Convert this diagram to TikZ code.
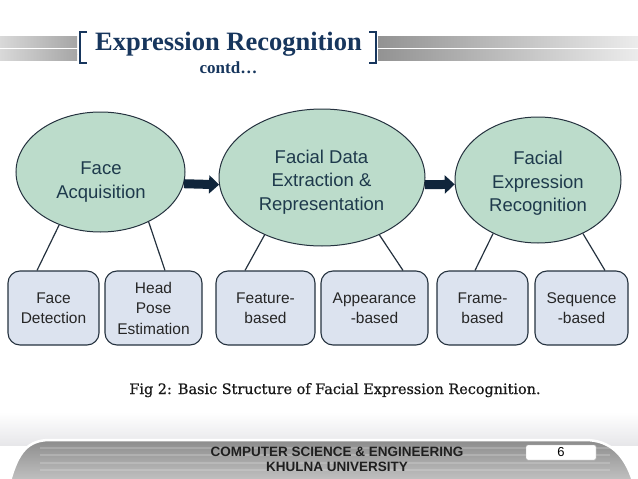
\documentclass[tikz,border=0pt]{standalone}
\usepackage{fontspec}
\setmainfont{Liberation Sans}
\newfontfamily\seriffont{Liberation Serif}
\newfontfamily\capfont{DejaVu Serif}[FakeBold=0.7]
\usepackage{tikz}
\usetikzlibrary{arrows.meta,shapes.geometric}

\definecolor{navy}{HTML}{17365D}
\definecolor{stagefill}{HTML}{BCDCCB}
\definecolor{stagetext}{HTML}{1E3A4C}
\definecolor{methodfill}{HTML}{DCE3EF}
\definecolor{outline}{HTML}{25323F}
\definecolor{arrowblue}{HTML}{10253B}
\definecolor{bandtop}{gray}{0.55}
\definecolor{bandbot}{gray}{0.76}

\tikzset{
	stage/.style={ellipse,draw=outline,line width=1pt,fill=stagefill,inner sep=0pt},
	stagelabel/.style={text=stagetext,align=center,font=\fontsize{18.5}{23.5}\selectfont},
	method/.style={rectangle,rounded corners=12pt,draw=outline,line width=1.1pt,fill=methodfill,
		minimum height=74pt,inner sep=0pt,align=center,text=black!85,font=\fontsize{15.5}{20.5}\selectfont},
	flow/.style={draw=arrowblue,line width=9pt,-{Triangle[length=10pt,width=18pt]}},
	branch/.style={draw=outline,line width=1.2pt}
}

\begin{document}
\begin{tikzpicture}[x=1pt,y=-1pt]
	\useasboundingbox (0,0) rectangle (638,479);

	% title bar
	\foreach \y in {36,42.3,49,54.7} {
		\shade[left color=gray!30,right color=gray!70] (0,\y) rectangle (77,\y+5.3);
		\shade[left color=gray!85,right color=gray!15] (378,\y) rectangle (638,\y+5.3);
	}
	\draw[navy,line width=1.2pt] (87,32) -- (80,32) -- (80,63) -- (87,63);
	\draw[navy,line width=1.2pt] (369,32) -- (376,32) -- (376,63) -- (369,63);
	\node[navy,anchor=base] (title) at (228.5,50) {\seriffont\bfseries\fontsize{26.5}{30}\selectfont Expression Recognition};
	\node[navy,anchor=base] (contd) at (228.5,73) {\seriffont\bfseries\fontsize{17}{20}\selectfont contd…};

	% stages
	\node[stage,minimum width=169pt,minimum height=120pt] (acq) at (100.5,172) {};
	\node[stage,minimum width=206pt,minimum height=137pt] (ext) at (322,177.5) {};
	\node[stage,minimum width=166pt,minimum height=126pt] (rec) at (538,180) {};
	\node[stagelabel] (acqtext) at (101,182) {Face\\Acquisition};
	\node[stagelabel] (exttext) at (321.5,182) {Facial Data\\Extraction \&\\Representation};
	\node[stagelabel] (rectext) at (538,183.5) {Facial\\Expression\\Recognition};

	\path[flow] (acq.352) -- (ext.184);
	\path[flow] (ext.356) -- (rec.183);

	% methods
	\begin{scope}[every node/.style={method}]
		\node[minimum width=91pt] (det) at (53.5,308) {Face\\Detection};
		\node[minimum width=97pt] (pose) at (153.5,308) {Head\\Pose\\Estimation};
		\node[minimum width=99pt] (feat) at (265.5,308) {Feature-\\based};
		\node[minimum width=107pt] (app) at (374.5,308) {Appearance\\-based};
		\node[minimum width=91pt] (frame) at (482.5,308) {Frame-\\based};
		\node[minimum width=93pt] (seq) at (581.5,308) {Sequence\\-based};
	\end{scope}

	\path[branch] (acq.232) -- ([xshift=-16.5pt]det.north);
	\path[branch] (acq.314) -- ([xshift=11.5pt]pose.north);
	\path[branch] (ext.225) -- ([xshift=-20.5pt]feat.north);
	\path[branch] (ext.315) -- ([xshift=28.5pt]app.north);
	\path[branch] (rec.230) -- ([xshift=-7.5pt]frame.north);
	\path[branch] (rec.310) -- ([xshift=23.5pt]seq.north);

	\node[anchor=base,text=black!90] (caption) at (335,394) {\capfont\fontsize{14.4}{18}\selectfont Fig 2: Basic Structure of Facial Expression Recognition.};

	% footer band
	\shade[top color=white,bottom color=blue!6!gray!18] (0,412) rectangle (638,445);
	\path[draw=white,line width=2.5pt,top color=bandtop,bottom color=bandbot]
		(10,481) .. controls (18,452) and (28,440) .. (50,440) -- (585,440)
		.. controls (610,440) and (625,455) .. (633,481) -- cycle;
	\foreach \y in {448,455,463,470} {
		\draw[white,opacity=0.18,line width=1.5pt] (40,\y) -- (610,\y);
	}
	\node[align=center,text=black!88,font=\bfseries\fontsize{13.5}{14.5}\selectfont] (dept) at (337,459.5) {COMPUTER SCIENCE \& ENGINEERING\\KHULNA UNIVERSITY};
	\node[draw=gray!60,fill=white,rounded corners=1.5pt,minimum width=70pt,minimum height=15pt,inner sep=0pt,font=\fontsize{13}{15}\selectfont] (page) at (561,452.5) {6};
\end{tikzpicture}
\end{document}
